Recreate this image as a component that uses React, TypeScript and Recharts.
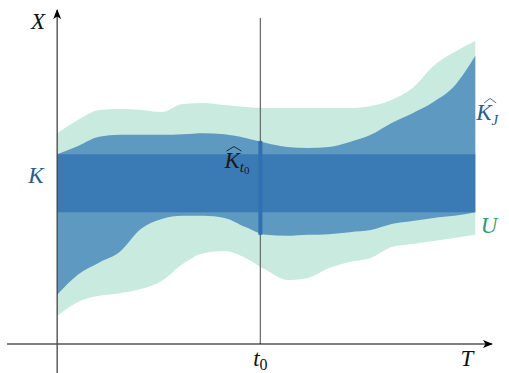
import { ComposedChart, Area, XAxis, YAxis, ReferenceLine, ReferenceDot } from 'recharts';

// time grid (T) and band edges (X)
const times = [0, 0.5, 1, 1.5, 2, 2.5, 3, 3.5, 4, 4.5, 5, 5.5, 6, 6.5, 7, 7.5, 8, 8.5, 9, 9.5, 10];
const uLow = [0.83, 1.24, 1.42, 1.5, 1.62, 1.86, 2.36, 2.68, 2.74, 2.54, 2.18, 1.89, 1.95, 2.24, 2.42, 2.54, 2.86, 2.95, 3.04, 3.13, 3.22];
const uHigh = [6.22, 6.61, 6.9, 6.93, 6.9, 6.84, 7.08, 7.11, 7.05, 6.99, 6.96, 6.96, 6.96, 6.96, 6.96, 7.02, 7.2, 7.55, 8.2, 8.61, 8.94];
const kHatLow = [1.45, 2.05, 2.4, 2.72, 3.39, 3.69, 3.78, 3.78, 3.72, 3.45, 3.22, 3.19, 3.22, 3.24, 3.3, 3.36, 3.54, 3.63, 3.72, 3.78, 3.89];
const kHatHigh = [5.6, 5.84, 6.11, 6.17, 6.17, 6.17, 6.19, 6.22, 6.19, 6.08, 5.93, 5.81, 5.78, 5.81, 5.96, 6.17, 6.52, 6.81, 7.14, 7.61, 8.5];
const kBand = [3.89, 5.6];
const t0 = 4.86;
const kHatT0 = [3.22, 5.99];

const data = times.map((t, i) => ({
  t,
  u: [uLow[i], uHigh[i]],
  kHat: [kHatLow[i], kHatHigh[i]],
  k: kBand,
}));

const math = { fontFamily: "'Liberation Serif', 'DejaVu Serif', serif", fontStyle: 'italic', fontSize: 23 };

const Hat = ({ x, y, w, color }: { x: number; y: number; w: number; color: string }) => (
  <path d={`M${x - w / 2},${y} L${x},${y - 4.5} L${x + w / 2},${y}`} fill="none" stroke={color} strokeWidth={0.9} />
);

const label = (t: number, x: number, draw: (cx: number, cy: number) => any) => (
  <ReferenceDot x={t} y={x} r={0} ifOverflow="visible" shape={(p: any) => draw(p.cx, p.cy)} />
);

export default function App() {
  return (
    <div style={{ position: 'absolute', left: 0, top: 0, background: '#fff' }}>
      <ComposedChart width={509} height={373} data={data} margin={{ top: 5, right: 17, bottom: 29, left: 7 }}>
        <defs>
          <marker id="arrow" viewBox="0 0 10 10" refX="9" refY="5" markerWidth="10" markerHeight="10" markerUnits="userSpaceOnUse" orient="auto">
            <path d="M0,1 L10,5 L0,9 L2.5,5 Z" fill="#000" />
          </marker>
        </defs>
        <XAxis dataKey="t" type="number" domain={[-1.2, 10.4]} hide />
        <YAxis type="number" domain={[0, 10]} hide />
        <Area type="monotone" dataKey="u" stroke="none" fill="#c8eadf" fillOpacity={1} isAnimationActive={false} />
        <Area type="monotone" dataKey="kHat" stroke="none" fill="#5e99c2" fillOpacity={1} isAnimationActive={false} />
        <Area type="linear" dataKey="k" stroke="none" fill="#3a7bb6" fillOpacity={1} isAnimationActive={false} />

        <ReferenceLine segment={[{ x: t0, y: 0 }, { x: t0, y: 9.62 }]} stroke="#6f6f6f" strokeWidth={1.3} ifOverflow="visible" />
        <ReferenceLine segment={[{ x: t0, y: kHatT0[0] }, { x: t0, y: kHatT0[1] }]} stroke="#3170b0" strokeWidth={4} ifOverflow="visible" />
        <ReferenceLine segment={[{ x: -1.2, y: 0 }, { x: 10.4, y: 0 }]} stroke="#000" strokeWidth={1.1} markerEnd="url(#arrow)" ifOverflow="visible" />
        <ReferenceLine segment={[{ x: 0, y: -0.86 }, { x: 0, y: 9.85 }]} stroke="#444" strokeWidth={1.3} markerEnd="url(#arrow)" ifOverflow="visible" />

        {label(-0.46, 9.29, (cx, cy) => (
          <text x={cx} y={cy} textAnchor="middle" style={math} fill="#111">X</text>
        ))}
        {label(9.8, -0.65, (cx, cy) => (
          <text x={cx} y={cy} textAnchor="middle" style={math} fill="#111">T</text>
        ))}
        {label(t0, -0.65, (cx, cy) => (
          <text x={cx} y={cy} textAnchor="middle" style={math} fill="#111">
            t<tspan fontSize={16} fontStyle="normal" dy={4}>0</tspan>
          </text>
        ))}
        {label(-0.51, 4.75, (cx, cy) => (
          <text x={cx} y={cy} textAnchor="middle" style={math} fill="#2a5d8f">K</text>
        ))}
        {label(10.33, 3.27, (cx, cy) => (
          <text x={cx} y={cy} textAnchor="middle" style={math} fill="#2e9c76">U</text>
        ))}
        {label(10.26, 6.61, (cx, cy) => (
          <g>
            <Hat x={cx + 4} y={cy - 17} w={12} color="#2a5d8f" />
            <text x={cx + 1} y={cy} textAnchor="middle" style={math} fill="#2a5d8f">
              K<tspan fontSize={15} dy={5}>J</tspan>
            </text>
          </g>
        ))}
        {label(4.3, 5.19, (cx, cy) => (
          <g>
            <Hat x={cx - 3} y={cy - 17} w={15} color="#1a1a1a" />
            <text x={cx} y={cy} textAnchor="middle" style={math} fill="#1a1a1a">
              K<tspan fontSize={15} dy={4}>t</tspan>
              <tspan fontSize={11} fontStyle="normal" dy={2}>0</tspan>
            </text>
          </g>
        ))}
      </ComposedChart>
    </div>
  );
}
